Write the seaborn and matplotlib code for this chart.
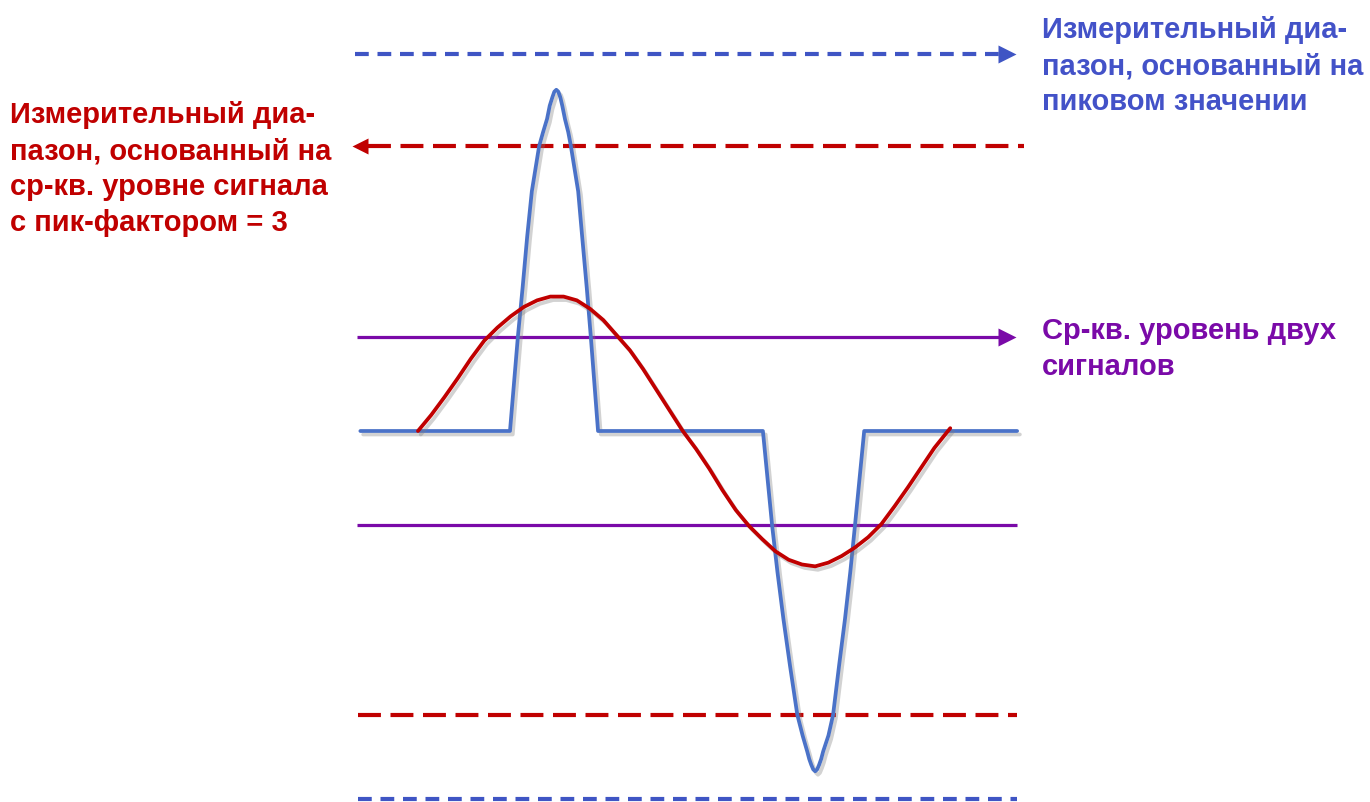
import matplotlib
matplotlib.use("Agg")
import matplotlib.pyplot as plt
import matplotlib.patheffects as pe
import pandas as pd
import seaborn as sns

# time in ms, amplitude in units of the rms level
sine_t = [0.95, 1.15, 1.35, 1.55, 1.75, 1.95, 2.15, 2.35, 2.55, 2.75, 2.95, 3.15, 3.35, 3.55,
          3.75, 3.95, 4.15, 4.35, 4.55, 4.75, 4.95, 5.15, 5.35, 5.55, 5.75, 5.95, 6.15, 6.35,
          6.55, 6.75, 6.95, 7.15, 7.35, 7.55, 7.75, 7.95, 8.15, 8.35, 8.55, 8.75, 8.99]
sine_v = [0.00, 0.17, 0.36, 0.56, 0.77, 0.96, 1.10, 1.22, 1.32, 1.39, 1.43, 1.43, 1.39, 1.30,
          1.18, 1.02, 0.86, 0.66, 0.44, 0.22, 0.00, -0.19, -0.40, -0.63, -0.84, -1.01, -1.15, -1.28,
          -1.37, -1.42, -1.44, -1.40, -1.33, -1.24, -1.13, -0.99, -0.80, -0.60, -0.39, -0.18, 0.03]

pulse_t = [0.08, 2.34, 2.46, 2.53, 2.60, 2.67, 2.78, 2.84, 2.90, 2.94, 2.98, 3.01, 3.04, 3.07,
           3.10, 3.13, 3.17, 3.22, 3.26, 3.37, 3.43, 3.50, 3.56, 3.67,
           6.16, 6.30, 6.38, 6.47, 6.57, 6.68, 6.76, 6.83, 6.86, 6.89, 6.92, 6.95, 6.98, 7.01,
           7.04, 7.07, 7.15, 7.22, 7.31, 7.40, 7.48, 7.55, 7.69, 10.0]
pulse_v = [0.0, 0.0, 1.01, 1.52, 2.07, 2.55, 3.03, 3.18, 3.32, 3.46, 3.55, 3.61, 3.63, 3.61,
           3.55, 3.46, 3.32, 3.18, 3.03, 2.55, 2.07, 1.52, 1.01, 0.0,
           0.0, -1.01, -1.50, -2.00, -2.50, -3.02, -3.24, -3.41, -3.49, -3.55, -3.60, -3.62, -3.60, -3.55,
           -3.49, -3.41, -3.24, -3.02, -2.50, -2.00, -1.50, -1.01, 0.0, 0.0]

peak_levels = [4.01, -3.91]
crest3_levels = [3.03, -3.02]
rms_levels = [1.0, -1.0]

red_label = "Измерительный диа-\nпазон, основанный на\nср-кв. уровне сигнала\nс пик-фактором = 3"
blue_label = "Измерительный диа-\nпазон, основанный на\nпиковом значении"
purple_label = "Ср-кв. уровень двух\nсигналов"

RED = "#C00000"
BLUE_SIG = "#4A72C8"
BLUE_DASH = "#3F55C4"
BLUE_TXT = "#4352C8"
PURPLE = "#7A0AA8"

sns.set_style("white")
plt.rcParams["font.family"] = ["Liberation Sans", "DejaVu Sans"]

fig = plt.figure(figsize=(13.7, 8.03), dpi=100)
ax = fig.add_axes([0, 0, 1, 1])

# reference levels
ax.hlines(peak_levels[0], 0.0, 9.72, color=BLUE_DASH, lw=3.0, linestyles=[(0, (3.3, 2.1))])
ax.plot([9.84], [peak_levels[0]], marker=">", ms=13, color=BLUE_DASH, mec="none")
ax.hlines(peak_levels[1], 0.05, 10.0, color=BLUE_DASH, lw=3.0, linestyles=[(0, (3.3, 2.1))])

ax.hlines(crest3_levels[0], 0.2, 10.1, color=RED, lw=3.0, linestyles=[(0, (5.5, 2.3))])
ax.plot([0.08], [crest3_levels[0]], marker="<", ms=12, color=RED, mec="none")
ax.hlines(crest3_levels[1], 0.05, 10.0, color=RED, lw=3.0, linestyles=[(0, (5.5, 2.3))])

ax.hlines(rms_levels[0], 0.03, 9.75, color=PURPLE, lw=2.3)
ax.plot([9.84], [rms_levels[0]], marker=">", ms=13, color=PURPLE, mec="none")
ax.hlines(rms_levels[1], 0.03, 10.0, color=PURPLE, lw=2.3)

shadow = [pe.SimpleLineShadow(offset=(2, -2.5), shadow_color="gray", alpha=0.35), pe.Normal()]

pulse = pd.DataFrame({"t": pulse_t, "v": pulse_v})
sine = pd.DataFrame({"t": sine_t, "v": sine_v})
sns.lineplot(data=pulse, x="t", y="v", ax=ax, color=BLUE_SIG, lw=2.7, sort=False,
             estimator=None, path_effects=shadow, solid_joinstyle="round")
sns.lineplot(data=sine, x="t", y="v", ax=ax, color=RED, lw=2.7, sort=False,
             estimator=None, path_effects=shadow, solid_joinstyle="round")

ax.set_xlim(-5.363, 15.33)
ax.set_ylim(-3.947, 4.596)
ax.axis("off")

txt = dict(fontsize=21.0, fontweight="bold", ha="left", va="top", linespacing=1.37,
           xycoords="figure pixels")
ax.annotate(red_label, (10, 803 - 101), color=RED, **txt)
ax.annotate(blue_label, (1042, 803 - 16), color=BLUE_TXT, **txt)
ax.annotate(purple_label, (1042, 803 - 317), color=PURPLE, **txt)

fig.savefig("out.png", dpi=100)
